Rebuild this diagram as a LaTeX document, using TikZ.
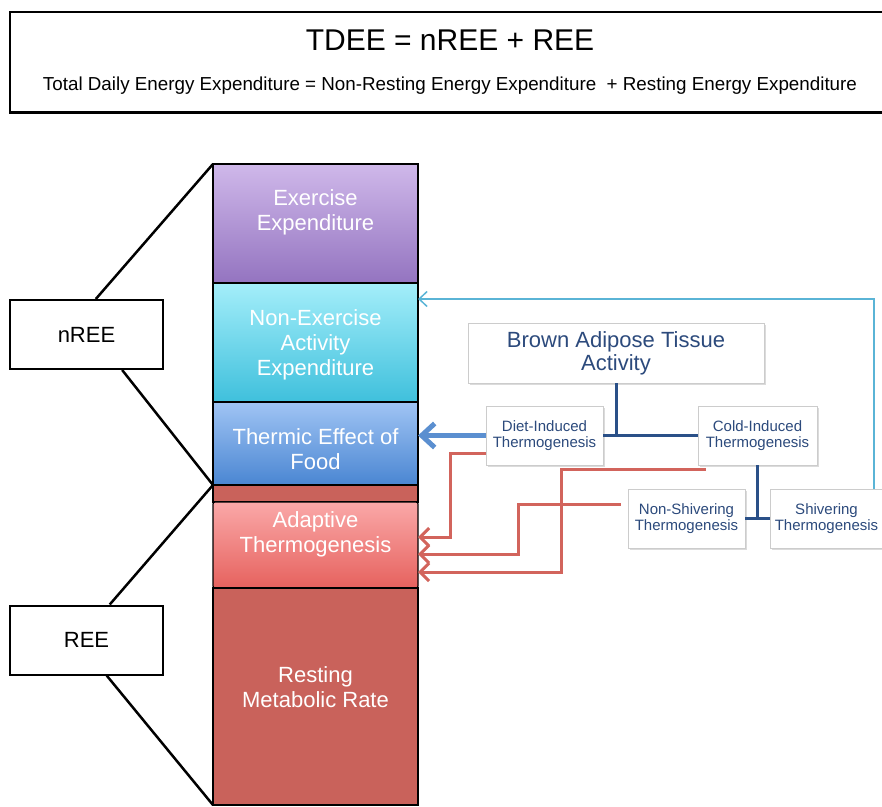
\documentclass[tikz,border=0pt]{standalone}
\usepackage{fontspec}
\setmainfont{Liberation Sans}
\usetikzlibrary{arrows.meta, positioning, calc, shadows}

\definecolor{exTop}{HTML}{CFB8EA}
\definecolor{exBot}{HTML}{9474C0}
\definecolor{neTop}{HTML}{A4EEFA}
\definecolor{neBot}{HTML}{3FC0DC}
\definecolor{tefTop}{HTML}{A0C4F4}
\definecolor{tefBot}{HTML}{4A86D2}
\definecolor{atTop}{HTML}{FAA8A8}
\definecolor{atBot}{HTML}{E6625E}
\definecolor{rmrRed}{HTML}{C9625B}
\definecolor{batBlue}{HTML}{2C4A7C}
\definecolor{lineBlue}{HTML}{2A5088}
\definecolor{arrowBlue}{HTML}{5B8FD0}
\definecolor{arrowCyan}{HTML}{5AB4D6}
\definecolor{arrowRed}{HTML}{D2645C}

\begin{document}
\begin{tikzpicture}[x=1pt, y=-1pt,
  block/.style={draw=black, line width=1.2pt, minimum width=205pt, inner sep=0pt,
    outer sep=0pt},
  coltext/.style={text=white, align=center, font=\fontsize{22}{25}\selectfont},
  labelbox/.style={draw=black, line width=2pt, fill=white, minimum width=153pt,
    minimum height=69pt, font=\fontsize{22}{25}\selectfont},
  batbox/.style={draw=black!20, fill=white, text=batBlue, align=center, inner sep=0pt,
    drop shadow={shadow xshift=1.5pt, shadow yshift=-2pt, opacity=0.35, fill=black!40}},
  smallbox/.style={batbox, minimum height=59pt, font=\fontsize{15}{16}\selectfont},
  batline/.style={lineBlue, line width=3pt},
  redarrow/.style={-{Straight Barb[length=9pt, width=18pt]}, arrowRed, line width=3pt},
  ]
  \useasboundingbox (0,0) rectangle (882,806);

  % equation box
  \node[draw=black, line width=1.2pt, minimum width=880pt, minimum height=100pt] (tdee) at (450,62) {};
  \draw[line width=3pt] (tdee.south west) -- (tdee.south east);
  \node[font=\fontsize{30}{34}\selectfont] (eq) at (450,40) {TDEE = nREE + REE};
  \node[font=\fontsize{18.8}{21}\selectfont] (eqtext) at (450,86)
    {Total Daily Energy Expenditure = Non-Resting Energy Expenditure\ \ + Resting Energy Expenditure};

  % energy column
  \node[block, minimum height=119pt, top color=exTop, bottom color=exBot] (ex) at (315.5,223.5) {};
  \node[block, minimum height=119pt, top color=neTop, bottom color=neBot, below=0pt of ex] (neae) {};
  \node[block, minimum height=83pt, top color=tefTop, bottom color=tefBot, below=0pt of neae] (tef) {};
  \node[block, minimum height=17pt, fill=rmrRed, below=0pt of tef] (band) {};
  \node[block, minimum height=86pt, top color=atTop, bottom color=atBot, rounded corners=2pt, below=0pt of band] (adapt) {};
  \node[block, minimum height=217pt, fill=rmrRed, below=0pt of adapt] (rmr) {};

  \node[coltext] (extext) at ($(ex)+(0,-11)$) {Exercise\\Expenditure};
  \node[coltext] (neaetext) at ($(neae)+(0,2)$) {Non-Exercise\\Activity\\Expenditure};
  \node[coltext] (teftext) at ($(tef)+(0,6)$) {Thermic Effect of\\Food};
  \node[coltext] (adapttext) at ($(adapt)+(0,-11)$) {Adaptive\\Thermogenesis};
  \node[coltext] (rmrtext) at ($(rmr)+(0,-9)$) {Resting\\Metabolic Rate};

  % nREE / REE
  \node[labelbox] (nree) at (86.5,334.5) {nREE};
  \node[labelbox] (ree) at (86.5,640) {REE};
  \draw[line width=2.5pt] ($(nree.north west)!0.56!(nree.north east)$) -- (ex.north west);
  \draw[line width=2.5pt] ($(nree.south west)!0.73!(nree.south east)$) -- (tef.south west);
  \draw[line width=2.5pt] ($(ree.north west)!0.65!(ree.north east)$) -- (tef.south west);
  \draw[line width=2.5pt] ($(ree.south west)!0.63!(ree.south east)$) -- (rmr.south west);

  % brown adipose tissue
  \node[batbox, minimum width=296pt, minimum height=60pt, font=\fontsize{22}{23}\selectfont] (bat) at (616,353) {Brown Adipose Tissue\\Activity};
  \node[smallbox, minimum width=117pt] (diet) at (544.5,435.5) {Diet-Induced\\Thermogenesis};
  \node[smallbox, minimum width=119pt] (cold) at (757.5,435.5) {Cold-Induced\\Thermogenesis};
  \node[smallbox, minimum width=117pt] (nonshiv) at (686.5,518.5) {Non-Shivering\\Thermogenesis};
  \node[smallbox, minimum width=113pt] (shiv) at (826.5,518.5) {Shivering\\Thermogenesis};

  \draw[batline] (bat.south) -- (bat.south |- diet.east);
  \draw[batline] (diet.east) -- (cold.west);
  \draw[batline] (cold.south) -- (cold.south |- nonshiv.east);
  \draw[batline] (nonshiv.east) -- (shiv.west);

  % arrows into the column
  \draw[-{Straight Barb[length=8pt, width=15pt]}, arrowCyan, line width=1.5pt] ($(shiv.north)+(47.5,0)$) |- ($(neae.east)+(0,-43.5)$);
  \draw[-{Straight Barb[length=13pt, width=24pt]}, arrowBlue, line width=5pt] (diet.west) -- (diet.west -| tef.east);
  \draw[redarrow] ($(diet.south west)+(0,-12)$) -- ++(-35,0) |- ($(adapt.east)+(0,-8)$);
  \draw[redarrow] ($(nonshiv.west)+(-7,-14.5)$) -- ++(-102,0) |- ($(adapt.east)+(0,9)$);
  \draw[redarrow] ($(cold.south west)+(8,4)$) -- ++(-144,0) |- ($(adapt.east)+(0,27)$);
\end{tikzpicture}
\end{document}
